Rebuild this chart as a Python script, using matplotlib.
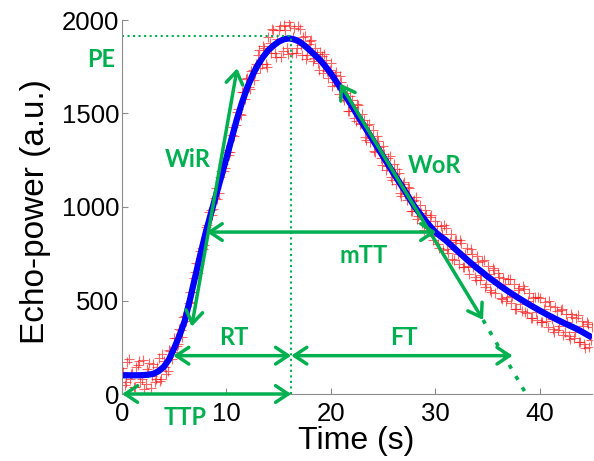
import numpy as np
import matplotlib
matplotlib.use("Agg")
import matplotlib.pyplot as plt

plt.rcParams['font.family'] = ['Liberation Sans', 'DejaVu Sans']

# measured echo power, two interleaved sample sets (every 0.25 s, offset 0.125 s)
t_meas_a = np.arange(0, 45.001, 0.25)
echo_meas_a = [
    140, 50, 170, 80, 110, 40, 155, 65, 180, 55, 120, 30,
    160, 78, 193, 82, 178, 108, 237, 188, 300, 258, 347, 303,
    415, 410, 543, 548, 655, 645, 765, 775, 895, 880, 985, 990,
    1100, 1075, 1190, 1195, 1305, 1280, 1385, 1380, 1510, 1495, 1615, 1578,
    1688, 1633, 1733, 1716, 1812, 1742, 1862, 1765, 1908, 1821, 1948, 1804,
    1944, 1801, 1972, 1851, 1987, 1825, 1956, 1851, 1954, 1813, 1917, 1815,
    1887, 1779, 1851, 1768, 1829, 1717, 1785, 1692, 1769, 1668, 1722, 1606,
    1670, 1573, 1630, 1513, 1570, 1478, 1550, 1443, 1495, 1373, 1440, 1348,
    1410, 1293, 1355, 1263, 1325, 1198, 1260, 1163, 1230, 1123, 1182, 1060,
    1133, 1040, 1103, 980, 1038, 935, 1011, 913, 985, 873, 947, 826,
    926, 804, 898, 772, 887, 754, 856, 718, 825, 697, 810, 677,
    780, 643, 751, 625, 738, 607, 711, 574, 683, 558, 673, 542,
    647, 512, 622, 498, 613, 484, 590, 456, 567, 444, 560, 432,
    538, 405, 517, 394, 511, 384, 491, 359, 471, 349, 467, 340,
    448, 317, 430, 309, 427, 300, 409, 277, 391, 267, 383, 254,
    360,
]
t_meas_b = np.arange(0.125, 45, 0.25)
echo_meas_b = [
    115, 65, 185, 105, 40, 145, 175, 80, 26, 132, 165, 98,
    64, 143, 67, 212, 143, 125, 230, 226, 301, 265, 340, 414,
    392, 489, 493, 619, 700, 695, 782, 795, 905, 975, 955, 1050,
    1045, 1160, 1230, 1210, 1295, 1293, 1427, 1437, 1523, 1493, 1617, 1683,
    1643, 1728, 1677, 1764, 1837, 1767, 1851, 1749, 1875, 1952, 1824, 1899,
    1968, 1834, 1944, 1817, 1966, 1908, 1824, 1968, 1864, 1908, 1791, 1869,
    1891, 1798, 1820, 1731, 1806, 1819, 1726, 1733, 1649, 1708, 1652, 1701,
    1589, 1612, 1514, 1592, 1534, 1462, 1544, 1447, 1464, 1357, 1444, 1367,
    1299, 1382, 1319, 1227, 1284, 1217, 1274, 1147, 1179, 1203, 1076, 1124,
    1072, 1109, 977, 1034, 1054, 951, 967, 879, 957, 890, 959, 844,
    900, 779, 858, 902, 776, 813, 720, 822, 749, 821, 679, 751,
    684, 777, 681, 609, 708, 637, 715, 589, 643, 543, 663, 587,
    627, 507, 588, 518, 614, 525, 456, 557, 483, 575, 436, 498,
    404, 516, 438, 520, 383, 455, 393, 495, 403, 331, 444, 362,
    455, 329, 387, 296, 414, 332, 421, 279, 362, 248, 374, 290,
]

# fitted curve, read every half second
t_fit = np.arange(0, 45.001, 0.5)
echo_fit = [
    100, 100, 100, 100, 101, 103, 108, 122, 145, 185,
    245, 312, 390, 503, 625, 745, 860, 962, 1062, 1162,
    1262, 1366, 1470, 1560, 1640, 1705, 1760, 1802, 1838, 1863,
    1884, 1897, 1902, 1896, 1884, 1862, 1837, 1811, 1784, 1750,
    1714, 1672, 1630, 1585, 1540, 1495, 1450, 1405, 1360, 1315,
    1270, 1225, 1180, 1137, 1093, 1048, 1003, 966, 930, 897,
    866, 843, 822, 796, 770, 745, 720, 696, 673, 651,
    628, 608, 587, 567, 548, 530, 512, 495, 478, 462,
    446, 431, 416, 402, 388, 375, 362, 349, 334, 318,
    302,
]

# perfusion parameters
t_peak = 16.2
pe = 1912
wir = [(6.67, 360), (11.03, 1742)]
wor = [(20.86, 1661), (34.57, 396)]
wor_end = (38.7, 0)
rt_y, rt_start = 205, 4.9
ft_end = 37.4
mtt_y, mtt = 866, (8.1, 30.1)

G = '#00b050'

fig = plt.figure(figsize=(5.94, 4.61), dpi=100)
ax = fig.add_axes([122 / 594, 67 / 461, 470 / 594, 374 / 461])

for tm, em in [(t_meas_a, echo_meas_a), (t_meas_b, echo_meas_b)]:
    ax.plot(tm, em, '+', color='red', ms=7, mew=0.8, alpha=0.6)
ax.plot(t_fit, echo_fit, color='#0000ff', lw=4.5, solid_capstyle='butt')

# dotted guides for PE / TTP
ax.plot([0, t_peak], [pe, pe], ls=':', color=G, lw=1.5)
ax.plot([t_peak, t_peak], [0, pe], ls=':', color=G, lw=1.5)
l, = ax.plot([wor[1][0], wor_end[0]], [wor[1][1], wor_end[1]], color=G, lw=2.6)
l.set_dashes((1.2, 2.4))


def arrow(p0, p1):
    ax.annotate('', xy=p1, xytext=p0, annotation_clip=False,
                arrowprops=dict(arrowstyle='<->,head_length=0.9,head_width=0.6',
                                color=G, lw=2.5, shrinkA=0, shrinkB=0,
                                mutation_scale=10, clip_on=False))


arrow((0, 0), (t_peak, 0))
arrow((rt_start, rt_y), (t_peak, rt_y))
arrow((t_peak, rt_y), (ft_end, rt_y))
arrow((mtt[0], mtt_y), (mtt[1], mtt_y))
arrow(wir[0], wir[1])
arrow(wor[1], wor[0])

lab = dict(color=G, fontsize=17, fontweight='bold', family=['Lato', 'DejaVu Sans'],
           ha='center', va='baseline', clip_on=False)
ax.text(-2.0, 1749, 'PE', **lab)
ax.text(6.3, 1214, 'WiR', **lab)
ax.text(29.9, 1182, 'WoR', **lab)
ax.text(23.1, 700, 'mTT', **lab)
ax.text(10.7, 262, 'RT', **lab)
ax.text(27.0, 262, 'FT', **lab)
ax.text(6.0, -166, 'TTP', **lab)

ax.set_xlim(0, 45)
ax.set_ylim(0, 2000)
ax.set_xticks([0, 10, 20, 30, 40])
ax.set_yticks([0, 500, 1000, 1500, 2000])
for s in ['top', 'right']:
    ax.spines[s].set_visible(False)
for s in ['left', 'bottom']:
    ax.spines[s].set_color('#8c8c8c')
ax.tick_params(direction='in', length=4, color='#8c8c8c', labelsize=18.5, labelcolor='black')
ax.tick_params(axis='x', pad=6)
ax.tick_params(axis='y', pad=2)

fig.text(356 / 594, (461 - 426) / 461, 'Time (s)', fontsize=23, ha='center', va='top')
fig.text(20 / 594, (461 - 212) / 461, 'Echo-power (a.u.)', fontsize=24,
         rotation=90, ha='left', va='center')

fig.savefig('out.png', dpi=100)
